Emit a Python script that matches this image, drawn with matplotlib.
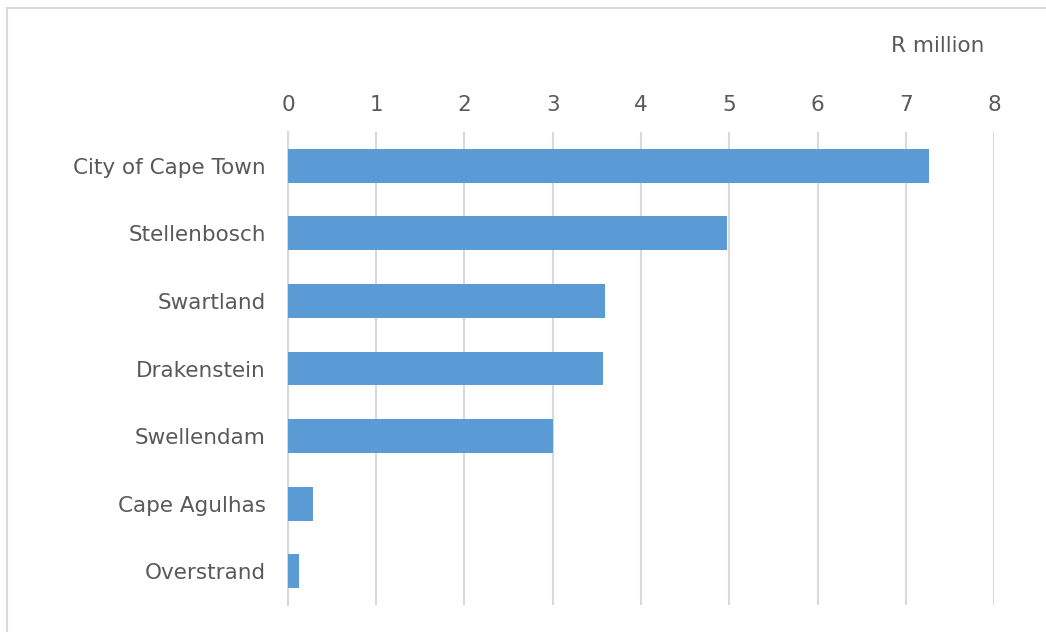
import matplotlib.pyplot as plt
from matplotlib.lines import Line2D

# Municipal values, R million
municipalities = ["City of Cape Town", "Stellenbosch", "Swartland", "Drakenstein",
                  "Swellendam", "Cape Agulhas", "Overstrand"]
values = [7.26, 4.98, 3.59, 3.57, 3.0, 0.28, 0.12]
x_ticks = [0, 1, 2, 3, 4, 5, 6, 7, 8]

BAR = "#5B9BD5"
GRID = "#D9D9D9"
TEXT = "#595959"

plt.rcParams["font.family"] = ["DejaVu Sans"]

fig = plt.figure(figsize=(10.46, 6.32), dpi=100)
ax = fig.add_axes([0.2753, 0.0427, 0.9503 - 0.2753, 0.7911 - 0.0427])

pos = list(range(len(municipalities)))
ax.barh(pos, values, height=0.5, color=BAR, zorder=3)
ax.set_ylim(len(municipalities) - 0.5, -0.5)
ax.set_xlim(0, 8)
ax.set_xticks(x_ticks)
ax.set_yticks(pos)
ax.set_yticklabels(municipalities)

ax.xaxis.tick_top()
ax.grid(axis="x", color=GRID, linewidth=1.5, zorder=0)
ax.tick_params(axis="both", length=0, labelsize=15.5, colors=TEXT)
ax.tick_params(axis="x", pad=12)
ax.tick_params(axis="y", pad=16)
for side in ["top", "right", "bottom"]:
    ax.spines[side].set_visible(False)
ax.spines["left"].set_color(GRID)
ax.spines["left"].set_linewidth(1.5)

fig.text(0.9407, 0.928, "R million", ha="right", va="center", fontsize=15.5, color=TEXT)

# chart area border (top and left edges)
fig.add_artist(Line2D([7 / 1046, 1], [1 - 8 / 632, 1 - 8 / 632], color=GRID, linewidth=1.5))
fig.add_artist(Line2D([7 / 1046, 7 / 1046], [0, 1 - 8 / 632], color=GRID, linewidth=1.5))

fig.savefig("out.png", dpi=100)
